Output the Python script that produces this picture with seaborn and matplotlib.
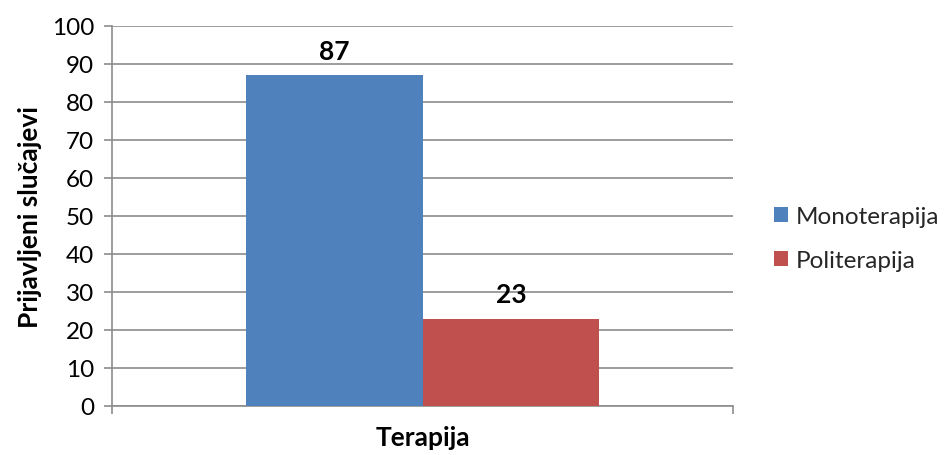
import numpy as np
import pandas as pd
import matplotlib
matplotlib.use("Agg")
import matplotlib.pyplot as plt
import seaborn as sns

# data
series = ["Monoterapija", "Politerapija"]
values = [87, 23]
category = ["Terapija"]
yticks = list(range(0, 101, 10))

BLUE = "#4F81BD"
RED = "#C0504D"
GRIDC = "#8C8C8C"

sns.set_theme(style="white")
plt.rcParams["font.family"] = ["Lato", "DejaVu Sans"]

df = pd.DataFrame({"kat": category * len(series), "serija": series, "vrijednost": values})

fig = plt.figure(figsize=(9.45, 4.56), dpi=100, facecolor="white")
ax = fig.add_axes([112 / 945, 49 / 456, 621 / 945, 380 / 456])

sns.barplot(data=df, x="kat", y="vrijednost", hue="serija",
            palette=[BLUE, RED], width=0.57, saturation=1, linewidth=0,
            ax=ax, legend=True, zorder=3)

ax.set_ylim(0, 100)
ax.set_xlim(-0.5, 0.5)
ax.set_yticks(yticks)
ax.set_yticklabels([str(t) for t in yticks], fontsize=17.5, color="black")
ax.set_xticks([-0.5, 0.5])
ax.set_xticklabels(["", ""])
ax.tick_params(axis="y", direction="out", length=6, width=1.2, color=GRIDC, pad=7, left=True)
ax.tick_params(axis="x", direction="out", length=6, width=1.2, color=GRIDC, bottom=True, pad=0)
ax.yaxis.grid(True, color=GRIDC, linewidth=1.2, zorder=0)
ax.set_axisbelow(True)

for side in ["top", "right"]:
    ax.spines[side].set_visible(False)
for side in ["left", "bottom"]:
    ax.spines[side].set_color(GRIDC)
    ax.spines[side].set_linewidth(1.2)

ax.set_ylabel("Prijavljeni slučajevi", fontsize=19, fontweight="bold", color="black", labelpad=7)
ax.set_xlabel("Terapija", fontsize=19, fontweight="bold", color="black", labelpad=8)

for cont in ax.containers:
    ax.bar_label(cont, fmt="%d", padding=9, fontsize=19, fontweight="bold", color="black")

handles, labels = ax.get_legend_handles_labels()
ax.legend(handles, labels, loc="center left", bbox_to_anchor=(1.05, 0.44),
          frameon=False, fontsize=17.5, handlelength=0.6, handleheight=0.6,
          handletextpad=0.3, labelspacing=0.95, borderaxespad=0)

fig.savefig("out.png", dpi=100, facecolor="white")
